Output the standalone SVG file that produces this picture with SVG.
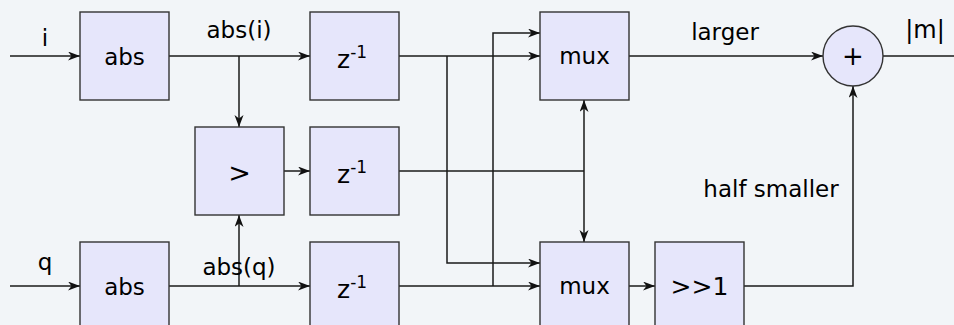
<svg xmlns="http://www.w3.org/2000/svg" width="954" height="325" viewBox="0 0 954 325">
<style>
.bg{fill:#f2f5f8}
.box{fill:#e6e6fb;stroke:#333;stroke-width:1.4}
.w{fill:none;stroke:#1a1a1a;stroke-width:1.5}
.a{marker-end:url(#ah)}
text{font-family:"DejaVu Sans",sans-serif;fill:#000}
.bl{font-size:23px;text-anchor:middle}
.el{font-size:23px;text-anchor:middle}
</style>
<defs>
<marker id="ah" markerUnits="userSpaceOnUse" markerWidth="14" markerHeight="10" refX="12" refY="4.5" orient="auto">
<path d="M0,0 L12,4.5 L0,9 L3.5,4.5 z" fill="#111"/>
</marker>
</defs>
<rect class="bg" x="0" y="0" width="954" height="325"/>
<g id="connectors">
<path class="w a" d="M10,56 H80"/>
<path class="w a" d="M10,286 H80"/>
<path class="w a" d="M169,56 H310"/>
<path class="w a" d="M239,56 V127"/>
<path class="w a" d="M169,286 H310"/>
<path class="w a" d="M239,286 V215"/>
<path class="w a" d="M284,171 H310"/>
<path class="w a" d="M399,56 H540"/>
<path class="w a" d="M447,56 V263 H540"/>
<path class="w a" d="M399,286 H540"/>
<path class="w a" d="M493,286 V33 H540"/>
<path class="w" d="M399,171 H584"/>
<path class="w a" d="M584,171 V100"/>
<path class="w a" d="M584,171 V242"/>
<path class="w a" d="M629,56 H823"/>
<path class="w" d="M883,56 H954"/>
<path class="w a" d="M629,286 H655"/>
<path class="w a" d="M744,286 H853 V86"/>
</g>
<g id="labels">
<text class="el" x="45" y="46">i</text>
<text class="el" x="45" y="270">q</text>
<text class="el" x="239" y="38">abs(i)</text>
<text class="el" x="239" y="275">abs(q)</text>
<text class="el" x="725" y="40">larger</text>
<text class="el" x="925" y="38" style="font-size:24px">|m|</text>
<text class="el" x="771" y="197">half smaller</text>
</g>
<g id="abs_i"><rect class="box" x="80" y="12" width="89" height="88"/><text class="bl" x="124.5" y="65">abs</text></g>
<g id="abs_q"><rect class="box" x="80" y="242" width="89" height="88"/><text class="bl" x="124.5" y="295">abs</text></g>
<g id="cmp"><rect class="box" x="195" y="127" width="89" height="88"/><text x="239.5" y="182" style="font-size:27px;text-anchor:middle">&gt;</text></g>
<g id="z1"><rect class="box" x="310" y="12" width="89" height="88"/><text x="337" y="68" style="font-size:25px">z<tspan dy="-10" font-size="17">-1</tspan></text></g>
<g id="z2"><rect class="box" x="310" y="127" width="89" height="88"/><text x="337" y="183" style="font-size:25px">z<tspan dy="-10" font-size="17">-1</tspan></text></g>
<g id="z3"><rect class="box" x="310" y="242" width="89" height="88"/><text x="337" y="298" style="font-size:25px">z<tspan dy="-10" font-size="17">-1</tspan></text></g>
<g id="mux1"><rect class="box" x="540" y="12" width="89" height="88"/><text class="bl" x="584.5" y="64">mux</text></g>
<g id="mux2"><rect class="box" x="540" y="242" width="89" height="88"/><text class="bl" x="584.5" y="294">mux</text></g>
<g id="shift"><rect class="box" x="655" y="242" width="89" height="88"/><text x="699.5" y="295" style="font-size:25px;text-anchor:middle">&gt;&gt;1</text></g>
<g id="sum"><circle class="box" cx="853" cy="56" r="30"/><text x="853" y="65" style="font-size:26px;text-anchor:middle">+</text></g>
</svg>
